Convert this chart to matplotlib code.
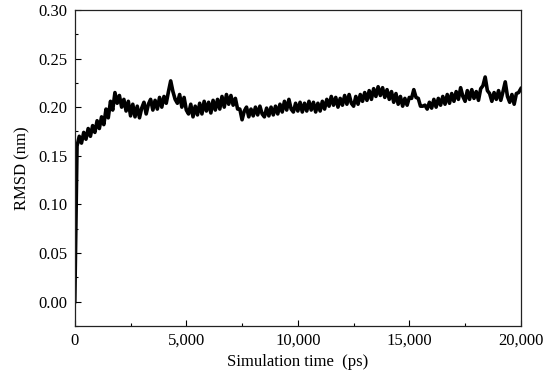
import matplotlib
matplotlib.use("Agg")
import matplotlib.pyplot as plt
from matplotlib.ticker import MultipleLocator, StrMethodFormatter

plt.rcParams['font.family'] = ['Liberation Serif', 'DejaVu Serif']

time_ps = list(range(0, 20001, 100))
rmsd = [
    0.000, 0.160, 0.170, 0.163, 0.174, 0.167, 0.178, 0.170, 0.181, 0.174,
    0.186, 0.178, 0.190, 0.182, 0.198, 0.189, 0.206, 0.197, 0.215, 0.204,
    0.212, 0.200, 0.208, 0.196, 0.206, 0.191, 0.203, 0.190, 0.201, 0.189,
    0.199, 0.205, 0.193, 0.203, 0.208, 0.197, 0.207, 0.198, 0.210, 0.200,
    0.211, 0.204, 0.216, 0.227, 0.216, 0.208, 0.204, 0.213, 0.200, 0.210,
    0.197, 0.193, 0.203, 0.190, 0.201, 0.192, 0.204, 0.193, 0.206, 0.196,
    0.205, 0.194, 0.207, 0.197, 0.208, 0.198, 0.211, 0.200, 0.213, 0.203,
    0.212, 0.202, 0.209, 0.198, 0.198, 0.187, 0.196, 0.200, 0.190, 0.198,
    0.191, 0.200, 0.192, 0.201, 0.193, 0.190, 0.199, 0.191, 0.200, 0.192,
    0.201, 0.193, 0.203, 0.195, 0.206, 0.197, 0.208, 0.198, 0.195, 0.204,
    0.196, 0.205, 0.195, 0.204, 0.196, 0.206, 0.197, 0.205, 0.195, 0.204,
    0.196, 0.206, 0.198, 0.208, 0.201, 0.211, 0.202, 0.210, 0.200, 0.209,
    0.202, 0.212, 0.203, 0.213, 0.204, 0.201, 0.211, 0.203, 0.213, 0.206,
    0.215, 0.207, 0.217, 0.208, 0.219, 0.211, 0.221, 0.212, 0.220, 0.210,
    0.218, 0.208, 0.216, 0.205, 0.214, 0.203, 0.211, 0.201, 0.209, 0.202,
    0.210, 0.209, 0.218, 0.210, 0.209, 0.201, 0.201, 0.202, 0.198, 0.205,
    0.199, 0.208, 0.200, 0.209, 0.202, 0.211, 0.203, 0.213, 0.204, 0.214,
    0.206, 0.216, 0.208, 0.220, 0.211, 0.206, 0.217, 0.208, 0.218, 0.209,
    0.216, 0.207, 0.219, 0.222, 0.231, 0.217, 0.214, 0.206, 0.215, 0.208,
    0.217, 0.207, 0.216, 0.226, 0.211, 0.205, 0.213, 0.203, 0.214, 0.215,
    0.219,
]

fig = plt.figure(figsize=(5.5, 3.82), dpi=100)
ax = fig.add_axes([0.136, 0.147, 0.811, 0.827])

ax.plot(time_ps, rmsd, color='black', linewidth=2.6)

ax.set_xlim(0, 20000)
ax.set_ylim(-0.025, 0.30)
ax.xaxis.set_major_locator(MultipleLocator(5000))
ax.xaxis.set_minor_locator(MultipleLocator(2500))
ax.yaxis.set_major_locator(MultipleLocator(0.05))
ax.yaxis.set_minor_locator(MultipleLocator(0.025))
ax.xaxis.set_major_formatter(StrMethodFormatter('{x:,.0f}'))
ax.yaxis.set_major_formatter(StrMethodFormatter('{x:.2f}'))

ax.tick_params(which='both', direction='in', top=False, right=False,
               labelsize=12, pad=5, width=0.8)
ax.tick_params(which='major', length=4)
ax.tick_params(which='minor', length=2.5)
for s in ax.spines.values():
    s.set_linewidth(0.9)
    s.set_color('#222222')

ax.set_xlabel('Simulation time  (ps)', fontsize=12, labelpad=4)
ax.set_ylabel('RMSD (nm)', fontsize=12, labelpad=6)

fig.savefig('out.png', dpi=100)
